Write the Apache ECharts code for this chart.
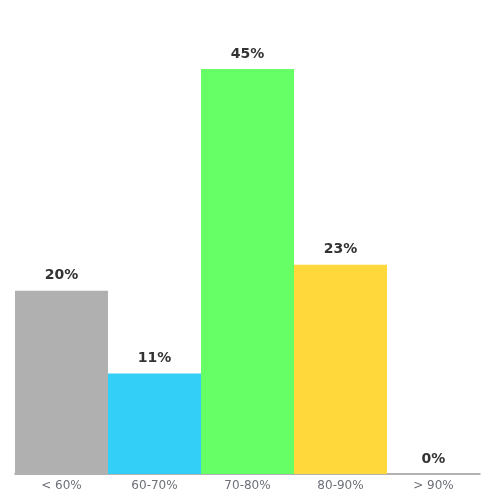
<!DOCTYPE html>
<html><head><meta charset="utf-8">
<script src="https://cdn.jsdelivr.net/npm/echarts@6/dist/echarts.min.js"></script>
<style>html,body{margin:0;padding:0;background:#fff}#c{width:500px;height:500px}</style>
</head><body><div id="c"></div>
<script>
var categories = ['< 60%', '60-70%', '70-80%', '80-90%', '> 90%'];
var values = [20.4, 11.2, 45.1, 23.3, 0];
var colors = ['#B0B0B0', '#33CFF7', '#66FF66', '#FFD83B', '#EEEEEE'];
var chart = echarts.init(document.getElementById('c'));
chart.setOption({
  animation: false,
  grid: {left: 15, right: 20, top: 69, bottom: 26},
  xAxis: {
    type: 'category', data: categories,
    axisTick: {show: false},
    axisLine: {lineStyle: {color: '#999999', width: 1.5}},
    axisLabel: {color: '#6E7079', fontSize: 12, fontFamily: 'DejaVu Sans', margin: 6}
  },
  yAxis: {type: 'value', min: 0, max: 45.1, show: false, splitLine: {show: false}},
  series: [{
    type: 'bar', barWidth: '100%',
    data: values.map(function (v, i) { return {value: v, itemStyle: {color: colors[i]}}; }),
    label: {show: true, position: 'top', formatter: function (p) { return Math.round(p.value) + '%'; },
      fontWeight: 'bold', fontSize: 14, color: '#333333', fontFamily: 'DejaVu Sans', distance: 8}
  }]
});
</script></body></html>
